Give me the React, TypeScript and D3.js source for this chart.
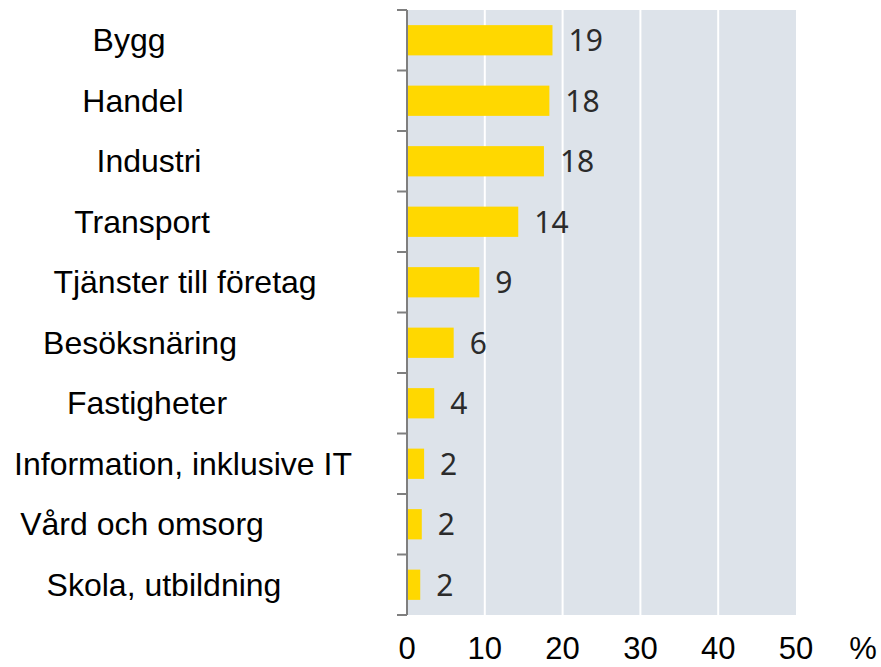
import * as d3 from 'd3';

// Branscher och andel (%)
const categories = [
  'Bygg',
  'Handel',
  'Industri',
  'Transport',
  'Tjänster till företag',
  'Besöksnäring',
  'Fastigheter',
  'Information, inklusive IT',
  'Vård och omsorg',
  'Skola, utbildning',
];
const values = [18.7, 18.3, 17.6, 14.3, 9.3, 6.0, 3.5, 2.2, 1.9, 1.7];
const xTicks = [0, 10, 20, 30, 40, 50];
const unitLabel = '%';

// the category labels are not aligned in the original, each has its own centre
const labelCenters = [129, 133, 149, 142, 185, 140, 147, 183, 142, 164];

export default function App() {
  const width = 881;
  const height = 667;
  const plot = { left: 407, right: 796, top: 10, bottom: 615 };

  const x = d3.scaleLinear().domain([0, 50]).range([plot.left, plot.right]);
  const y = d3
    .scaleBand<string>()
    .domain(categories)
    .range([plot.top, plot.bottom])
    .paddingInner(0.5)
    .paddingOuter(0.25);

  const step = y.step();
  const boundaries = categories.map((c) => y(c)! - step * 0.25);
  boundaries.push(plot.bottom);

  const font = '"Liberation Sans", Arial, sans-serif';

  return (
    <svg
      width={width}
      height={height}
      style={{ position: 'absolute', left: 0, top: 0, background: '#fff' }}
    >
      {/* plot background */}
      <rect
        x={plot.left}
        y={plot.top}
        width={plot.right - plot.left}
        height={plot.bottom - plot.top}
        fill="#dde3ea"
      />

      {/* vertical grid */}
      {xTicks.slice(1, -1).map((t) => (
        <line
          key={t}
          x1={x(t)}
          x2={x(t)}
          y1={plot.top}
          y2={plot.bottom}
          stroke="#fff"
          strokeWidth={2}
        />
      ))}

      {/* bars */}
      {categories.map((c, i) => (
        <rect
          key={c}
          x={x(0)}
          y={y(c)}
          width={x(values[i]) - x(0)}
          height={y.bandwidth()}
          fill="#ffd800"
        />
      ))}

      {/* value labels */}
      {categories.map((c, i) => (
        <text
          key={c}
          x={x(values[i]) + 16}
          y={y(c)! + y.bandwidth() / 2 + 11}
          fontFamily='"Noto Sans", sans-serif'
          fontSize={30}
          fill="#2b2b2b"
        >
          {Math.round(values[i])}
        </text>
      ))}

      {/* left axis */}
      <line
        x1={plot.left}
        x2={plot.left}
        y1={plot.top}
        y2={plot.bottom}
        stroke="#7f7f7f"
        strokeWidth={2}
      />
      {boundaries.map((b, i) => (
        <line
          key={i}
          x1={plot.left - 10}
          x2={plot.left}
          y1={b}
          y2={b}
          stroke="#7f7f7f"
          strokeWidth={2}
        />
      ))}

      {/* category labels */}
      {categories.map((c, i) => (
        <text
          key={c}
          x={labelCenters[i]}
          y={y(c)! + y.bandwidth() / 2 + 11}
          textAnchor="middle"
          fontFamily={font}
          fontSize={32}
          fill="#000"
        >
          {c}
        </text>
      ))}

      {/* x tick labels */}
      {xTicks.map((t) => (
        <text
          key={t}
          x={x(t)}
          y={659}
          textAnchor="middle"
          fontFamily={font}
          fontSize={31}
          fill="#000"
        >
          {t}
        </text>
      ))}
      <text
        x={x(50) + 67}
        y={659}
        textAnchor="middle"
        fontFamily={font}
        fontSize={31}
        fill="#000"
      >
        {unitLabel}
      </text>
    </svg>
  );
}
